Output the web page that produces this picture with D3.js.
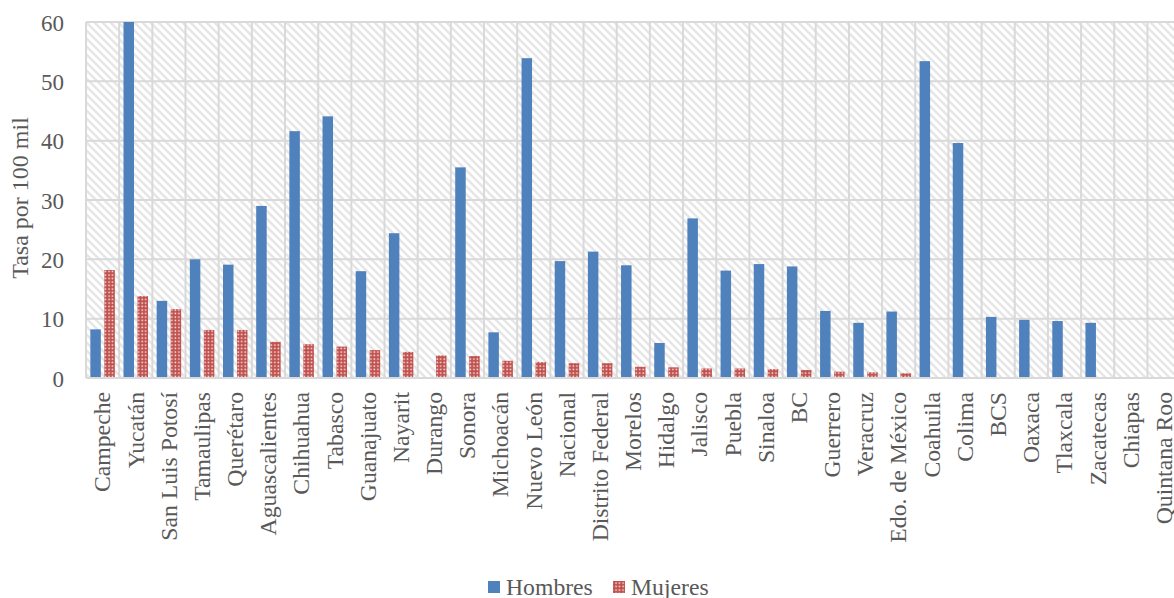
<!DOCTYPE html>
<html>
<head>
<meta charset="utf-8">
<script src="https://cdn.jsdelivr.net/npm/d3@7/dist/d3.min.js"></script>
<style>
  html, body { margin: 0; padding: 0; background: #fff; }
  svg { display: block; }
  svg text { font-family: "Liberation Serif", Tinos, "Times New Roman", serif; fill: #595959; }
</style>
</head>
<body>
<svg id="chart" width="1174" height="598"></svg>
<script>
// Tasa por 100 mil habitantes, por entidad y sexo
const estados = ["Campeche", "Yucatán", "San Luis Potosí", "Tamaulipas", "Querétaro",
  "Aguascalientes", "Chihuahua", "Tabasco", "Guanajuato", "Nayarit", "Durango", "Sonora",
  "Michoacán", "Nuevo León", "Nacional", "Distrito Federal", "Morelos", "Hidalgo", "Jalisco",
  "Puebla", "Sinaloa", "BC", "Guerrero", "Veracruz", "Edo. de México", "Coahuila", "Colima",
  "BCS", "Oaxaca", "Tlaxcala", "Zacatecas", "Chiapas", "Quintana Roo"];
const hombres = [8.2, 60, 13.0, 20.0, 19.1, 29.0, 41.6, 44.1, 18.0, 24.4, 0, 35.5,
  7.7, 53.9, 19.7, 21.3, 19.0, 5.9, 26.9, 18.1, 19.2, 18.8, 11.3, 9.3, 11.2, 53.4, 39.6,
  10.3, 9.8, 9.6, 9.3, 0, 0];
const mujeres = [18.2, 13.8, 11.6, 8.1, 8.1, 6.1, 5.7, 5.3, 4.7, 4.4, 3.8, 3.7,
  2.9, 2.7, 2.5, 2.5, 1.9, 1.8, 1.6, 1.6, 1.5, 1.35, 1.06, 0.95, 0.8, 0, 0,
  0, 0, 0, 0, 0, 0];
const yTicks = [0, 10, 20, 30, 40, 50, 60];
const series = ["Hombres", "Mujeres"];

const svg = d3.select("#chart");
const plotLeft = 86, plotTop = 22, plotBottom = 378, catStep = 33.17;
const plotRight = plotLeft + catStep * estados.length;

const defs = svg.append("defs");
// diagonal hatch for the plot background
const hatch = defs.append("pattern").attr("id", "hatch")
  .attr("patternUnits", "userSpaceOnUse").attr("width", 8).attr("height", 8);
hatch.append("rect").attr("width", 8).attr("height", 8).attr("fill", "#fff");
hatch.append("path").attr("d", "M-2,-2L10,10M-2,6L2,10M6,-2L10,2")
  .attr("stroke", "#e6e6e6").attr("stroke-width", 2.4);
// small-grid fill for the second series
const grid = defs.append("pattern").attr("id", "dots")
  .attr("patternUnits", "userSpaceOnUse").attr("width", 3.5).attr("height", 3.5);
grid.append("rect").attr("width", 3.5).attr("height", 3.5).attr("fill", "#c0504d");
grid.append("rect").attr("x", 1.3).attr("y", 1.3).attr("width", 1.5).attr("height", 1.5).attr("fill", "#fbeeee");

const x0 = d3.scaleBand().domain(estados).range([plotLeft, plotRight]).paddingInner(0).paddingOuter(0);
const x1 = d3.scaleBand().domain(series).range([0, x0.bandwidth()]).paddingInner(0.25).paddingOuter(0.31);
const y = d3.scaleLinear().domain([0, 60]).range([plotBottom, plotTop]);
const color = { Hombres: "#4f81bd", Mujeres: "url(#dots)" };

// plot background
svg.append("rect").attr("x", plotLeft).attr("y", plotTop)
  .attr("width", plotRight - plotLeft).attr("height", plotBottom - plotTop).attr("fill", "url(#hatch)");

// horizontal gridlines
svg.append("g").selectAll("line").data(yTicks).join("line")
  .attr("x1", plotLeft).attr("x2", plotRight)
  .attr("y1", d => y(d)).attr("y2", d => y(d))
  .attr("stroke", "#d9d9d9").attr("stroke-width", 2);

// vertical gridlines at category boundaries
svg.append("g").selectAll("line").data(estados).join("line")
  .attr("x1", d => x0(d)).attr("x2", d => x0(d))
  .attr("y1", plotTop).attr("y2", plotBottom)
  .attr("stroke", "#d9d9d9").attr("stroke-width", 2);

// bars
const rows = estados.map((e, i) => ({ estado: e, Hombres: hombres[i], Mujeres: mujeres[i] }));
svg.append("g").selectAll("g").data(rows).join("g")
  .attr("transform", d => `translate(${x0(d.estado)},0)`)
  .selectAll("rect")
  .data(d => series.map(s => ({ key: s, value: d[s] })).filter(d => d.value > 0))
  .join("rect")
  .attr("x", d => x1(d.key))
  .attr("width", x1.bandwidth())
  .attr("y", d => y(d.value))
  .attr("height", d => y(0) - y(d.value))
  .attr("fill", d => color[d.key]);

// baseline
svg.append("line").attr("x1", plotLeft).attr("x2", plotRight)
  .attr("y1", plotBottom).attr("y2", plotBottom)
  .attr("stroke", "#d9d9d9").attr("stroke-width", 2);

// y axis
const yAxis = d3.axisLeft(y).tickValues(yTicks).tickSize(0).tickPadding(0);
const gy = svg.append("g").attr("transform", `translate(${plotLeft - 22},0)`).call(yAxis)
  .attr("font-family", null).attr("font-size", null);
gy.select(".domain").remove();
gy.selectAll("text").style("font-size", "23px").attr("fill", "#595959").attr("dy", "0.35em");

// x axis labels, vertical
const xAxis = d3.axisBottom(x0).tickSize(0).tickPadding(0);
const gx = svg.append("g").attr("transform", `translate(0,${plotBottom})`).call(xAxis)
  .attr("font-family", null).attr("font-size", null);
gx.select(".domain").remove();
gx.selectAll("text")
  .style("font-size", "23.7px").attr("fill", "#595959")
  .attr("text-anchor", "end")
  .attr("transform", "rotate(-90)")
  .attr("x", -14).attr("y", 0).attr("dy", "0.33em");

// y axis title
svg.append("text")
  .attr("transform", "translate(28,198) rotate(-90)")
  .attr("text-anchor", "middle")
  .style("font-size", "24px")
  .text("Tasa por 100 mil");

// legend
const legend = svg.append("g").attr("transform", "translate(488,581)");
const items = [{ key: "Hombres", x: 0 }, { key: "Mujeres", x: 125 }];
items.forEach(it => {
  legend.append("rect").attr("x", it.x).attr("y", 0).attr("width", 12).attr("height", 12)
    .attr("fill", color[it.key]);
  legend.append("text").attr("x", it.x + 18).attr("y", 13.5)
    .style("font-size", "23.7px").text(it.key);
});
</script>
</body>
</html>
